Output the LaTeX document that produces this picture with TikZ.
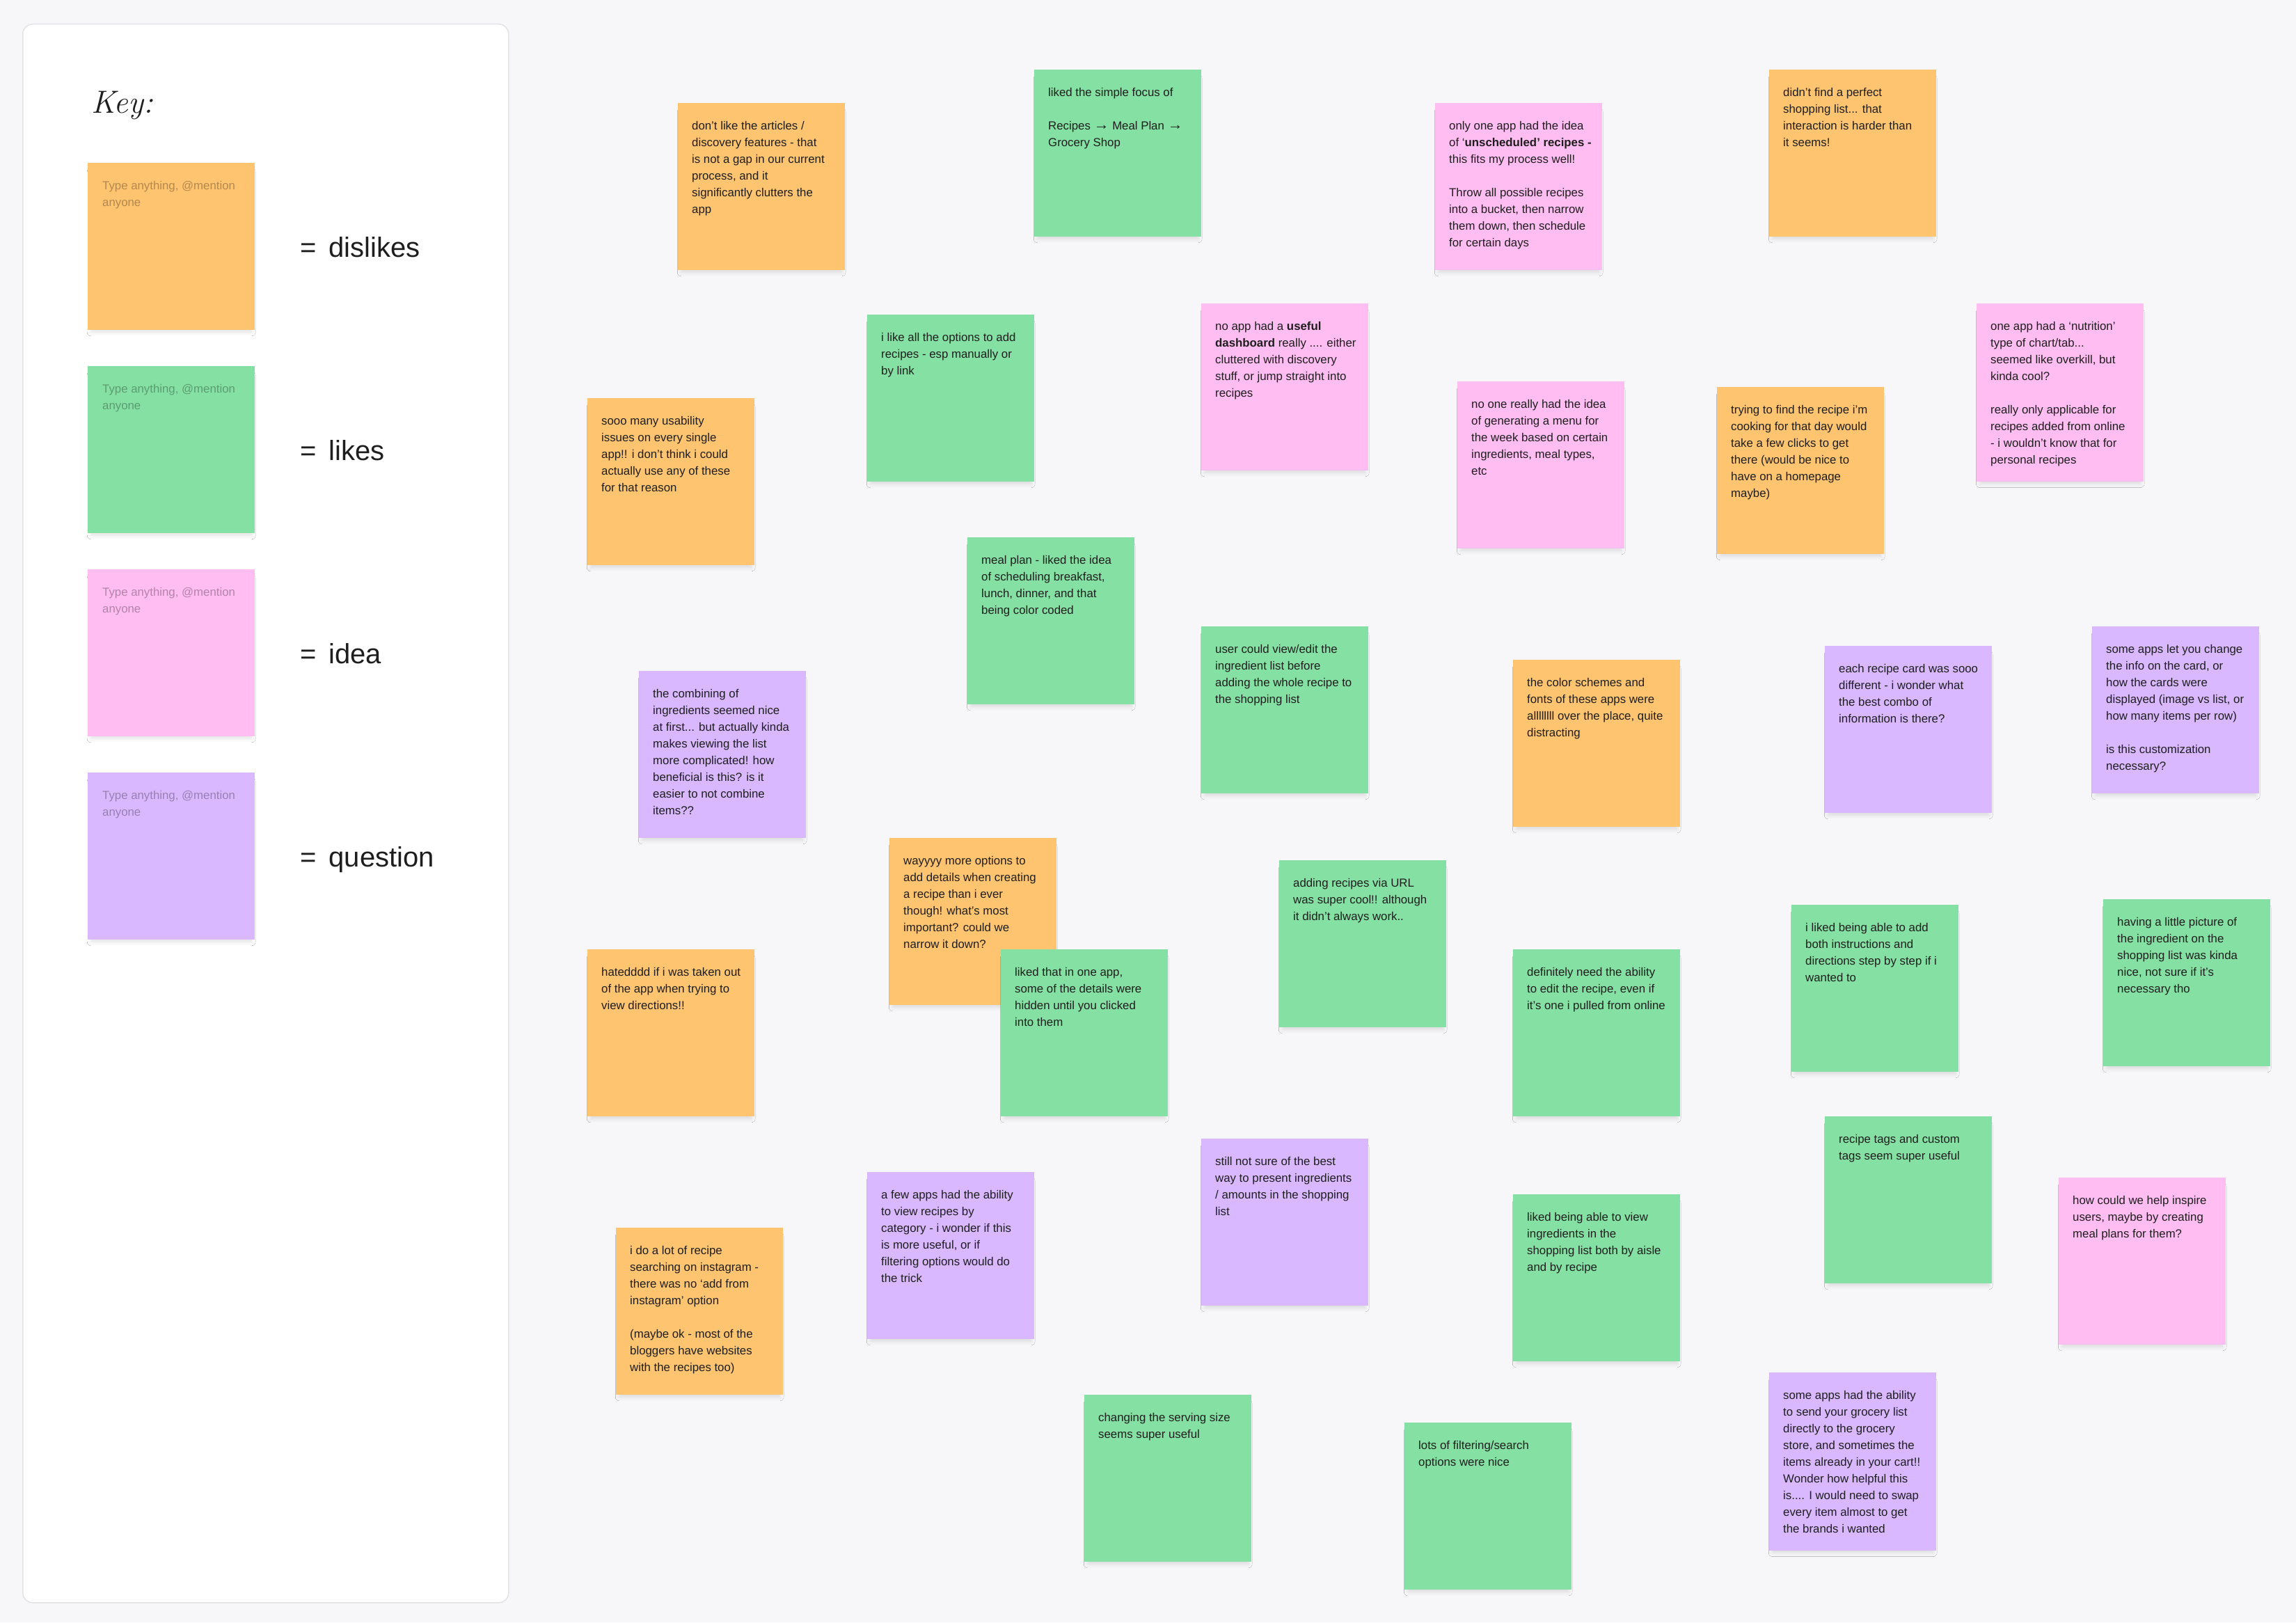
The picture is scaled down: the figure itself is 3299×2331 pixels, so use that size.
\documentclass[tikz,border=0pt]{standalone}
\usepackage{fontspec}
\newfontfamily\uifont{Liberation Sans}
\usetikzlibrary{shadows.blur}
\definecolor{canvas}{HTML}{F7F7F9}
\definecolor{noteorange}{HTML}{FFC470}
\definecolor{notegreen}{HTML}{85E0A3}
\definecolor{notepink}{HTML}{FFBDF2}
\definecolor{notepurple}{HTML}{D9B8FF}
\definecolor{notetext}{HTML}{1E1E1E}
\definecolor{panelborder}{HTML}{E3E3E6}
\newcommand{\notefont}{\uifont\fontsize{16.8pt}{24pt}\selectfont\raggedright}
\tikzset{
  stickybox/.style={anchor=north west, minimum width=240pt, inner sep=0pt, draw=none,
    blur shadow={shadow xshift=0pt, shadow yshift=-8pt, shadow scale=0.96,
      shadow blur radius=6pt, shadow opacity=12, shadow blur steps=6}},
  stickytext/.style={anchor=base west, inner sep=0pt, text=notetext},
  placeholder/.style={anchor=base west, inner sep=0pt, text=black, text opacity=0.3},
  keylabel/.style={anchor=base west, inner sep=0pt, text=notetext,
    font=\uifont\fontsize{40pt}{48pt}\selectfont},
  keypanel/.style={anchor=north west, minimum width=698pt, minimum height=2268pt,
    inner sep=0pt, fill=white, draw=panelborder, line width=1.5pt, rounded corners=14pt},
}
\newcommand{\stickynote}[6]{%
  \node[stickybox, fill=#2, minimum height=#5] (#1) at (#3,#4) {};
  \node[stickytext] (#1t) at ({#3+20},{#4+38})
    {\begin{minipage}[t]{230pt}\notefont #6\end{minipage}};
}
\newcommand{\keyswatch}[4]{%
  \node[stickybox, fill=#2, minimum height=240pt] (#1) at (#3,#4) {};
  \node[placeholder] (#1t) at ({#3+21},{#4+38})
    {\begin{minipage}[t]{230pt}\notefont Type anything, @mention\\anyone\end{minipage}};
}
\begin{document}
\begin{tikzpicture}[x=1pt,y=-1pt]
\useasboundingbox (0,0) rectangle (3299,2331);
\fill[canvas] (0,0) rectangle (3299,2331);

% key panel
\node[keypanel] (panel) at (32,34) {};
\node[anchor=base west, inner sep=0pt, text=notetext, font=\fontsize{46pt}{50pt}\selectfont\itshape] (keytitle) at (131,162) {Key:};
\keyswatch{k1}{noteorange}{126}{234}
\keyswatch{k2}{notegreen}{126}{526}
\keyswatch{k3}{notepink}{126}{818}
\keyswatch{k4}{notepurple}{126}{1110}
\node[keylabel] (l1) at (431,369) {=\hspace{18pt}dislikes};
\node[keylabel] (l2) at (431,661) {=\hspace{18pt}likes};
\node[keylabel] (l3) at (431,953) {=\hspace{18pt}idea};
\node[keylabel] (l4) at (431,1245) {=\hspace{18pt}question};

% sticky notes
\stickynote{n1}{noteorange}{974}{148}{240pt}{don’t like the articles /\\discovery features - that\\is not a gap in our current\\process, and it\\significantly clutters the\\app}
\stickynote{n2}{notegreen}{1486}{100}{240pt}{liked the simple focus of\\[24pt]Recipes {\fontsize{22pt}{24pt}\selectfont→} Meal Plan {\fontsize{22pt}{24pt}\selectfont→}\\Grocery Shop}
\stickynote{n3}{notepink}{2062}{148}{240pt}{only one app had the idea\\of ‘\textbf{unscheduled’ recipes -}\\this fits my process well!\\[24pt]Throw all possible recipes\\into a bucket, then narrow\\them down, then schedule\\for certain days}
\stickynote{n4}{noteorange}{2542}{100}{240pt}{didn’t find a perfect\\shopping list... that\\interaction is harder than\\it seems!}
\stickynote{n5}{notegreen}{1246}{452}{240pt}{i like all the options to add\\recipes - esp manually or\\by link}
\stickynote{n6}{notepink}{1726}{436}{240pt}{no app had a \textbf{useful}\\\textbf{dashboard} really .... either\\cluttered with discovery\\stuff, or jump straight into\\recipes}
\stickynote{n7}{noteorange}{844}{572}{240pt}{sooo many usability\\issues on every single\\app!! i don’t think i could\\actually use any of these\\for that reason}
\stickynote{n8}{notepink}{2094}{548}{240pt}{no one really had the idea\\of generating a menu for\\the week based on certain\\ingredients, meal types,\\etc}
\stickynote{n9}{noteorange}{2467}{556}{240pt}{trying to find the recipe i’m\\cooking for that day would\\take a few clicks to get\\there (would be nice to\\have on a homepage\\maybe)}
\stickynote{n10}{notepink}{2840}{436}{256pt}{one app had a ‘nutrition’\\type of chart/tab...\\seemed like overkill, but\\kinda cool?\\[24pt]really only applicable for\\recipes added from online\\- i wouldn’t know that for\\personal recipes}
\stickynote{n11}{notegreen}{1390}{772}{240pt}{meal plan - liked the idea\\of scheduling breakfast,\\lunch, dinner, and that\\being color coded}
\stickynote{n12}{notegreen}{1726}{900}{240pt}{user could view/edit the\\ingredient list before\\adding the whole recipe to\\the shopping list}
\stickynote{n13}{notepurple}{918}{964}{240pt}{the combining of\\ingredients seemed nice\\at first... but actually kinda\\makes viewing the list\\more complicated! how\\beneficial is this? is it\\easier to not combine\\items??}
\stickynote{n14}{noteorange}{2174}{948}{240pt}{the color schemes and\\fonts of these apps were\\allllllll over the place, quite\\distracting}
\stickynote{n15}{notepurple}{2622}{928}{240pt}{each recipe card was sooo\\different - i wonder what\\the best combo of\\information is there?}
\stickynote{n16}{notepurple}{3006}{900}{240pt}{some apps let you change\\the info on the card, or\\how the cards were\\displayed (image vs list, or\\how many items per row)\\[24pt]is this customization\\necessary?}
\stickynote{n17}{noteorange}{1278}{1204}{240pt}{wayyyy more options to\\add details when creating\\a recipe than i ever\\though! what’s most\\important? could we\\narrow it down?}
\stickynote{n18}{notegreen}{1438}{1364}{240pt}{liked that in one app,\\some of the details were\\hidden until you clicked\\into them}
\stickynote{n19}{notegreen}{1838}{1236}{240pt}{adding recipes via URL\\was super cool!! although\\it didn’t always work..}
\stickynote{n20}{noteorange}{844}{1364}{240pt}{hatedddd if i was taken out\\of the app when trying to\\view directions!!}
\stickynote{n21}{notegreen}{2174}{1364}{240pt}{definitely need the ability\\to edit the recipe, even if\\it’s one i pulled from online}
\stickynote{n22}{notegreen}{2574}{1300}{240pt}{i liked being able to add\\both instructions and\\directions step by step if i\\wanted to}
\stickynote{n23}{notegreen}{3022}{1292}{240pt}{having a little picture of\\the ingredient on the\\shopping list was kinda\\nice, not sure if it’s\\necessary tho}
\stickynote{n24}{notepurple}{1726}{1636}{240pt}{still not sure of the best\\way to present ingredients\\/ amounts in the shopping\\list}
\stickynote{n25}{notepurple}{1246}{1684}{240pt}{a few apps had the ability\\to view recipes by\\category - i wonder if this\\is more useful, or if\\filtering options would do\\the trick}
\stickynote{n26}{noteorange}{885}{1764}{240pt}{i do a lot of recipe\\searching on instagram -\\there was no ‘add from\\instagram’ option\\[24pt](maybe ok - most of the\\bloggers have websites\\with the recipes too)}
\stickynote{n27}{notegreen}{2622}{1604}{240pt}{recipe tags and custom\\tags seem super useful}
\stickynote{n28}{notegreen}{2174}{1716}{240pt}{liked being able to view\\ingredients in the\\shopping list both by aisle\\and by recipe}
\stickynote{n29}{notepink}{2958}{1692}{240pt}{how could we help inspire\\users, maybe by creating\\meal plans for them?}
\stickynote{n30}{notegreen}{1558}{2004}{240pt}{changing the serving size\\seems super useful}
\stickynote{n31}{notegreen}{2018}{2044}{240pt}{lots of filtering/search\\options were nice}
\stickynote{n32}{notepurple}{2542}{1972}{256pt}{some apps had the ability\\to send your grocery list\\directly to the grocery\\store, and sometimes the\\items already in your cart!!\\Wonder how helpful this\\is.... I would need to swap\\every item almost to get\\the brands i wanted}
\end{tikzpicture}
\end{document}
